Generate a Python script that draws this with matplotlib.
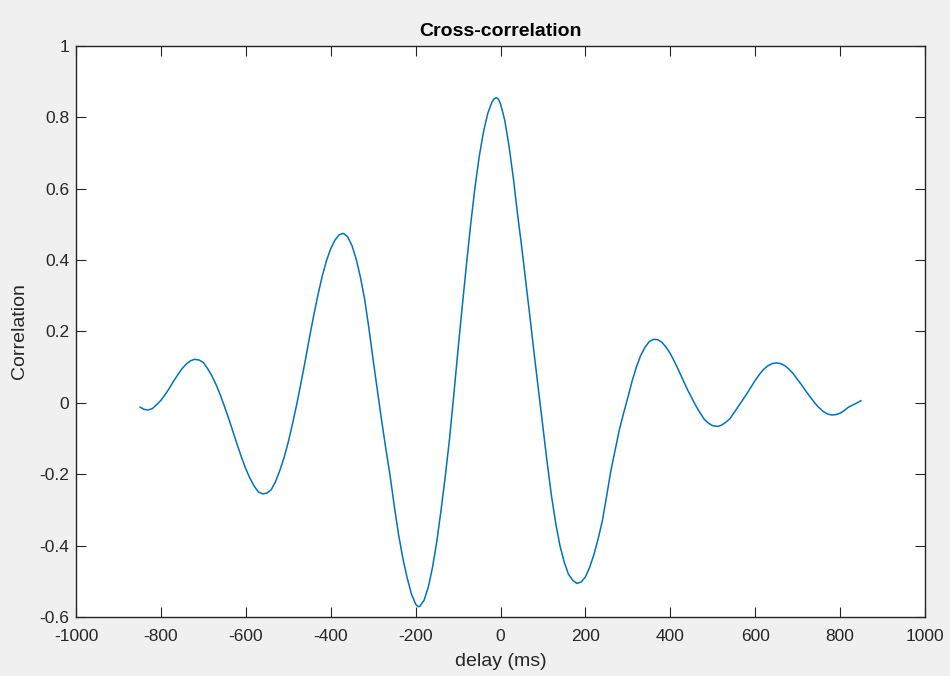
import matplotlib
matplotlib.use("Agg")
import matplotlib.pyplot as plt
from matplotlib.ticker import FixedLocator, FuncFormatter

plt.rcParams['font.family'] = ['Liberation Sans', 'DejaVu Sans']
plt.rcParams['axes.unicode_minus'] = False

delay_ms = [-849, -840, -830, -820, -810, -800, -790, -780, -770, -760, -750, -740, -730,
            -720, -710, -700, -690, -680, -670, -660, -650, -640, -630, -620, -610, -600,
            -590, -580, -570, -560, -550, -540, -530, -520, -510, -500, -490, -480, -470,
            -460, -450, -440, -430, -420, -410, -400, -390, -380, -370, -360, -350, -340,
            -330, -320, -310, -300, -290, -280, -270, -260, -250, -240, -230, -220, -210,
            -200, -194, -190, -180, -170, -160, -150, -140, -130, -120, -110, -100, -90,
            -80, -70, -60, -50, -40, -30, -20, -15, -10, -5, 0, 10, 20, 30, 40, 50, 60, 70,
            80, 90, 100, 110, 120, 130, 140, 150, 160, 170, 180, 190, 200, 210, 220, 230,
            240, 250, 260, 270, 280, 290, 300, 310, 320, 330, 340, 350, 360, 370, 380, 390,
            400, 410, 420, 430, 440, 450, 460, 470, 480, 490, 500, 510, 520, 530, 540, 550,
            560, 570, 580, 590, 600, 610, 620, 630, 640, 650, 660, 670, 680, 690, 700, 710,
            720, 730, 740, 750, 760, 770, 780, 790, 800, 810, 820, 830, 840, 849]
correlation = [-0.012, -0.018, -0.020, -0.016, -0.005, 0.007, 0.023, 0.041, 0.061, 0.079,
               0.096, 0.109, 0.118, 0.122, 0.120, 0.113, 0.096, 0.076, 0.051, 0.022, -0.011,
               -0.045, -0.082, -0.118, -0.153, -0.185, -0.212, -0.234, -0.250, -0.255,
               -0.253, -0.243, -0.221, -0.190, -0.154, -0.110, -0.059, -0.004, 0.056, 0.118,
               0.183, 0.245, 0.303, 0.355, 0.398, 0.432, 0.456, 0.471, 0.475, 0.465, 0.441,
               0.403, 0.352, 0.290, 0.209, 0.120, 0.036, -0.050, -0.129, -0.205, -0.291,
               -0.370, -0.436, -0.490, -0.535, -0.564, -0.571, -0.570, -0.553, -0.516,
               -0.460, -0.388, -0.300, -0.205, -0.100, 0.023, 0.150, 0.272, 0.390, 0.503,
               0.605, 0.691, 0.760, 0.811, 0.843, 0.852, 0.855, 0.851, 0.838, 0.792, 0.720,
               0.632, 0.530, 0.436, 0.335, 0.234, 0.130, 0.030, -0.070, -0.168, -0.260,
               -0.337, -0.400, -0.446, -0.480, -0.497, -0.506, -0.502, -0.488, -0.461,
               -0.425, -0.381, -0.330, -0.261, -0.190, -0.133, -0.075, -0.029, 0.015, 0.061,
               0.100, 0.132, 0.155, 0.171, 0.178, 0.177, 0.170, 0.156, 0.138, 0.115, 0.090,
               0.064, 0.038, 0.015, -0.008, -0.028, -0.046, -0.057, -0.064, -0.066, -0.063,
               -0.055, -0.045, -0.028, -0.010, 0.007, 0.025, 0.044, 0.063, 0.080, 0.094,
               0.104, 0.110, 0.112, 0.110, 0.104, 0.094, 0.081, 0.065, 0.049, 0.032, 0.016,
               0.000, -0.013, -0.024, -0.031, -0.034, -0.033, -0.029, -0.021, -0.012, -0.006,
               0.000, 0.006]

x_ticks = [-1000, -800, -600, -400, -200, 0, 200, 400, 600, 800, 1000]
y_ticks = [-0.6, -0.4, -0.2, 0, 0.2, 0.4, 0.6, 0.8, 1]

title_text = "Cross-correlation"
x_label = "delay (ms)"
y_label = "Correlation"

fig = plt.figure(figsize=(9.5, 6.76), dpi=100, facecolor='#f0f0f0')
ax = fig.add_axes([0.080, 0.0873, 0.8937, 0.8447])
ax.set_facecolor('white')

ax.plot(delay_ms, correlation, color='#0072BD', linewidth=1.1, solid_joinstyle='round')

ax.set_xlim(-1000, 1000)
ax.set_ylim(-0.6, 1)
ax.xaxis.set_major_locator(FixedLocator(x_ticks))
ax.yaxis.set_major_locator(FixedLocator(y_ticks))

def fmt(v, pos):
    s = ('%.1f' % v).rstrip('0').rstrip('.')
    if s in ('-0', ''):
        s = '0'
    return s

ax.xaxis.set_major_formatter(FuncFormatter(lambda v, p: '%d' % round(v)))
ax.yaxis.set_major_formatter(FuncFormatter(fmt))

axis_col = '#262626'
for sp in ax.spines.values():
    sp.set_color(axis_col)
    sp.set_linewidth(1.0)

ax.tick_params(direction='in', length=7, width=0.8, colors=axis_col,
               labelsize=12.5, top=True, right=True, pad=5)
ax.tick_params(axis='x', pad=9)

ax.set_title(title_text, fontsize=14, fontweight='bold', color='black', pad=7)
ax.set_xlabel(x_label, fontsize=14, color=axis_col, labelpad=6)
ax.set_ylabel(y_label, fontsize=14, color=axis_col, labelpad=8)

fig.savefig("out.png", dpi=100, facecolor=fig.get_facecolor())
